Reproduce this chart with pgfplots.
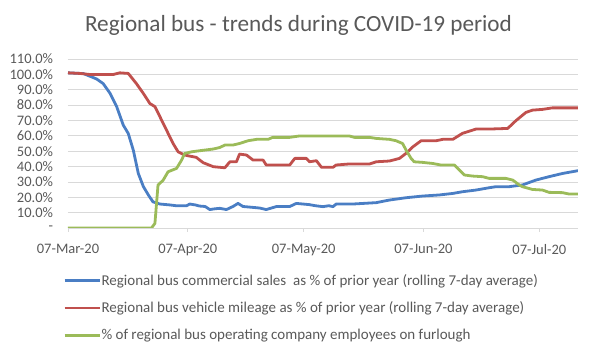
\documentclass[border=0pt]{standalone}
\usepackage{fontspec}
\setmainfont{Carlito}
\usepackage{pgfplots}
\pgfplotsset{compat=1.18}
\definecolor{cblue}{HTML}{4A7EC4}
\definecolor{cred}{HTML}{C0504D}
\definecolor{cgreen}{HTML}{9BBB59}
\definecolor{tgrey}{HTML}{595959}
\definecolor{ggrey}{HTML}{D9D9D9}
\begin{document}
\begin{tikzpicture}
\useasboundingbox (0,0) rectangle (590pt,350pt);
\begin{axis}[
  at={(68pt,122pt)}, anchor=south west,
  scale only axis, width=510pt, height=169pt,
  xmin=0, xmax=132, ymin=0, ymax=110,
  axis x line*=bottom, axis y line*=left,
  x axis line style={ggrey, line width=0.8pt, -},
  y axis line style={draw=none},
  ytick={0,10,...,110},
  yticklabels={-,10.0\%,20.0\%,30.0\%,40.0\%,50.0\%,60.0\%,70.0\%,80.0\%,90.0\%,100.0\%,110.0\%},
  ymajorgrids, grid style={ggrey, line width=0.8pt},
  xtick={0,31,61,92,122},
  xticklabels={07-Mar-20,07-Apr-20,07-May-20,07-Jun-20,07-Jul-20},
  tick align=outside, x tick style={ggrey, line width=0.8pt}, major tick length=4pt,
  y tick style={draw=none},
  tick label style={font=\fontsize{14.5}{16}\selectfont, text=tgrey},
  /pgf/number format/assume math mode=true,
  yticklabel style={inner sep=0pt, xshift=-10.8pt},
  xticklabel style={inner sep=0pt, yshift=-12pt},
  title={Regional bus - trends during COVID-19 period},
  title style={at={(0.452,1)}, anchor=base, yshift=21pt, font=\fontsize{23.2}{27}\selectfont, text=tgrey, inner sep=0pt},
  legend style={at={(-0.0098,-0.27)}, anchor=north west, draw=none, fill=none,
    font=\fontsize{15}{17}\selectfont, text=tgrey, row sep=14pt, inner sep=0pt,
    nodes={inner sep=0.5pt}},
  legend cell align=left,
  legend image code/.code={\draw[#1, line width=2.8pt] (0pt,0pt) -- (35pt,0pt);},
  every axis plot/.append style={line width=2.8pt, line join=round},
]
\addplot[cblue] coordinates {
(0,101) (4,100.5) (7.4,97) (9.1,94) (10.9,87.6) (12.6,79) (14.3,67) (15.6,61.5)
(16.9,50.7) (18.2,35.5) (19.5,27) (20.8,21.5) (22,17) (23.8,15.6) (26.4,15) (28,14.5)
(30.7,14.5) (31.5,15.6) (33,15) (34,14.3) (35.5,14) (36.7,12) (38,12.5) (39.3,12.8)
(41,12) (42.7,14) (44,16) (45.3,14) (47.5,13.5) (49.6,13) (51.3,12) (54,14) (57.4,14)
(59.1,16) (62.5,15.2) (64,14.5) (66,13.9) (67.5,14.5) (68.6,13.9) (69.4,15.6) (73.7,15.6)
(79.8,16.5) (83.2,18.2) (87.5,19.7) (91.8,20.8) (96.1,21.5) (99.6,22.5) (102.1,23.6)
(105.6,24.7) (109,26.2) (110.8,26.9) (114.2,26.9) (117.6,28) (121.1,31.2) (124.5,33.4)
(128,35.5) (132,37.3)
};
\addlegendentry{Regional bus commercial sales\ \ as \% of prior year (rolling 7-day average)}
\addplot[cred] coordinates {
(0,101) (3.1,100.6) (5.7,99.9) (11.7,99.9) (13.4,101) (15.6,100.6) (17.7,94) (19.5,87.6)
(21.2,81) (22.5,79) (23.8,72.4) (25.5,63.7) (27.2,55) (28.5,49.6) (30.2,47.5) (31.5,46.8)
(33.2,46) (34.1,44.2) (35,42.5) (37.6,39.9) (40.6,39.2) (41.9,43.1) (43.6,43.1) (44.4,48.1)
(46.2,47.5) (47.9,44.2) (50.5,44.2) (51.3,41) (57.4,41) (58.7,45.3) (61.7,45.3) (62.5,43.1)
(64.3,43.8) (65.6,39.5) (68.6,39.5) (69.4,41) (72.9,41.7) (78.1,41.7) (79.8,43.1) (83.2,43.6)
(85.8,45.3) (87.5,48.6) (89.3,52.9) (91.4,56.8) (95.3,56.8) (97,57.7) (99.6,57.7) (102.1,61.6)
(105.6,64.4) (109,64.4) (113.8,64.8) (115.9,69.8) (118.5,75.2) (120.2,76.7) (122.8,77.2)
(125.4,78.2) (132,78.2)
};
\addlegendentry{Regional bus vehicle mileage as \% of prior year (rolling 7-day average)}
\addplot[cgreen] coordinates {
(0,0) (21.6,0) (22.5,3) (23.3,28) (24.6,31) (25.9,36.6) (28.1,38.8) (29.4,44.2) (30.2,48.5)
(32,49.6) (34.1,50.3) (37.6,51.4) (39.3,52.4) (40.6,54) (42.7,54) (44.4,55) (46.6,56.8)
(48.8,57.7) (51.8,57.7) (53,59) (57.4,59) (59.9,59.9) (72.8,59.9) (74.1,59) (78,59)
(79.8,58.3) (83.2,57.7) (84.9,56.8) (86.6,55) (87.5,50.7) (88.8,45.3) (89.6,43.1)
(91.8,42.7) (94.4,42) (96.5,41) (100,41) (101.3,37.7) (102.6,34.5) (104.7,33.8)
(107.3,33.4) (109,32.3) (113.3,32.3) (115.1,31.2) (116.8,28) (117.6,26.9) (120.2,25.1)
(122.8,24.7) (124.5,23.2) (128,23) (129.7,22.1) (132,22.1)
};
\addlegendentry{\% of regional bus operating company employees on furlough}
\end{axis}
\end{tikzpicture}
\end{document}
